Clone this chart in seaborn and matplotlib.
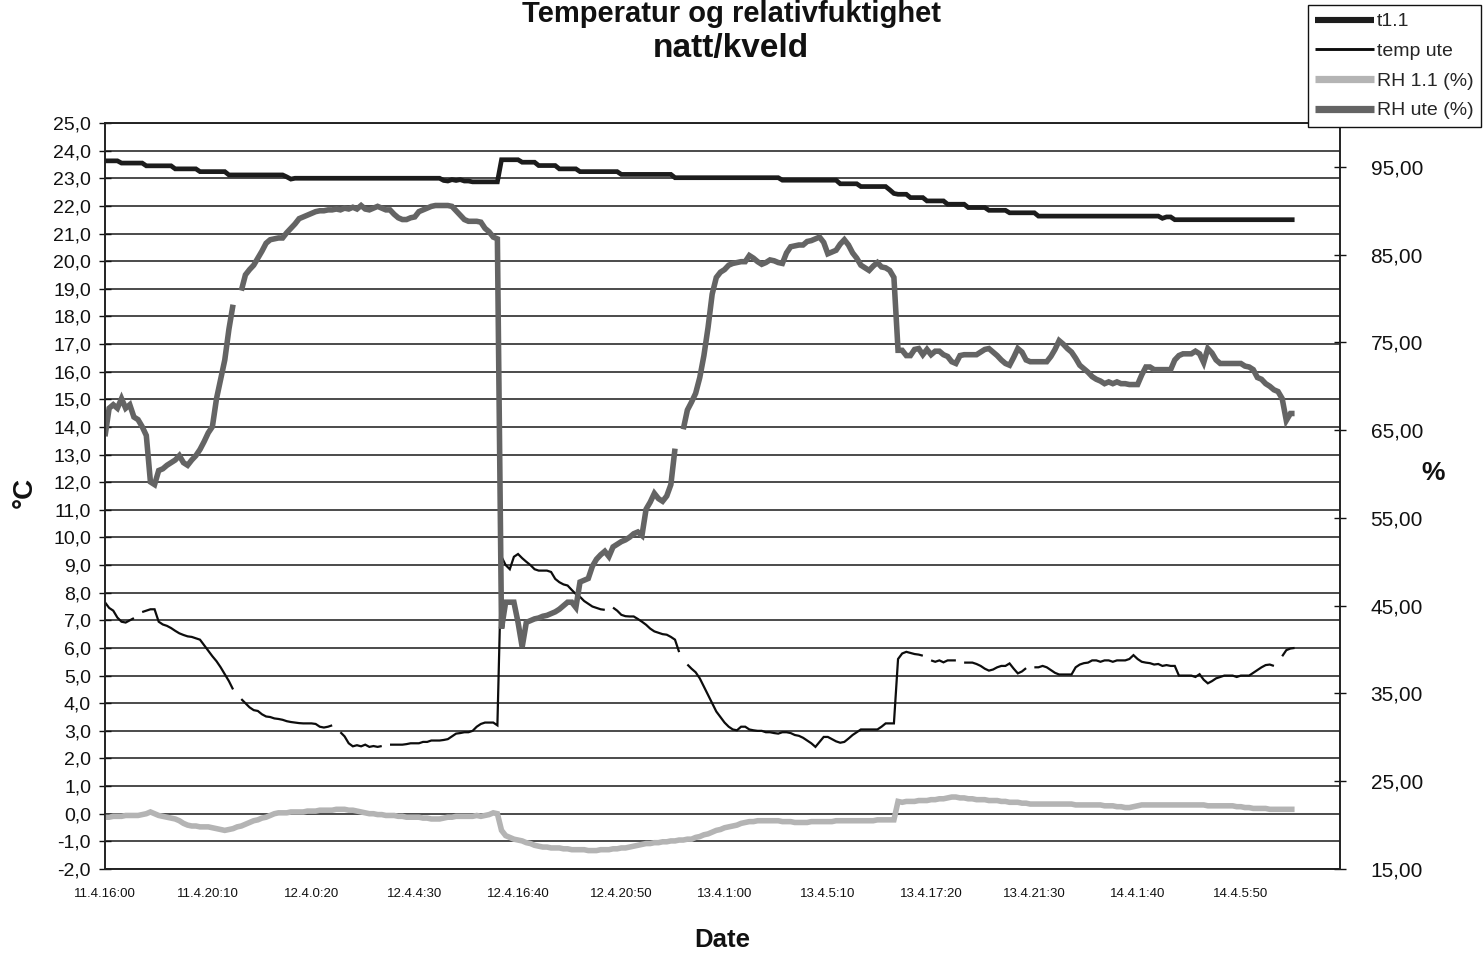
import datetime as dt
import numpy as np
import pandas as pd
import matplotlib
matplotlib.use("Agg")
import matplotlib.pyplot as plt
import seaborn as sns
from matplotlib.lines import Line2D

nan = float("nan")

TITLE = ["Temperatur og relativfuktighet", "natt/kveld"]
SERIES_NAMES = ["t1.1", "temp ute", "RH 1.1 (%)", "RH ute (%)"]
# logging sessions: (start, number of 10-minute samples on the category axis)
SESSIONS = [(dt.datetime(2000, 4, 11, 16, 0), 96),
            (dt.datetime(2000, 4, 12, 16, 0), 96),
            (dt.datetime(2000, 4, 13, 16, 0), 108)]
TICK_LABELS = ["11.4.16:00", "11.4.20:10", "12.4.0:20", "12.4.4:30", "12.4.16:40",
               "12.4.20:50", "13.4.1:00", "13.4.5:10", "13.4.17:20", "13.4.21:30",
               "14.4.1:40", "14.4.5:50"]

# t1.1 (deg C, left axis)
T11 = [
    23.63, 23.63, 23.63, 23.63, 23.55, 23.55, 23.55, 23.55, 23.55, 23.55,
    23.45, 23.45, 23.45, 23.45, 23.45, 23.45, 23.45, 23.34, 23.34, 23.34,
    23.34, 23.34, 23.34, 23.24, 23.24, 23.24, 23.24, 23.24, 23.24, 23.24,
    23.12, 23.12, 23.12, 23.12, 23.12, 23.12, 23.12, 23.12, 23.12, 23.12,
    23.12, 23.12, 23.12, 23.12, 23.05, 22.97, 23.0, 23.0, 23.0, 23.0,
    23.0, 23.0, 23.0, 23.0, 23.0, 23.0, 23.0, 23.0, 23.0, 23.0,
    23.0, 23.0, 23.0, 23.0, 23.0, 23.0, 23.0, 23.0, 23.0, 23.0,
    23.0, 23.0, 23.0, 23.0, 23.0, 23.0, 23.0, 23.0, 23.0, 23.0,
    23.0, 23.0, 22.92, 22.9, 22.95, 22.92, 22.95, 22.9, 22.9, 22.87,
    22.87, 22.87, 22.87, 22.87, 22.87, 22.87,
    23.67, 23.67, 23.67, 23.67,
    23.67, 23.58, 23.58, 23.58, 23.58, 23.46, 23.46, 23.46, 23.46, 23.46,
    23.34, 23.34, 23.34, 23.34, 23.34, 23.24, 23.24, 23.24, 23.24, 23.24,
    23.24, 23.24, 23.24, 23.24, 23.24, 23.14, 23.14, 23.14, 23.14, 23.14,
    23.14, 23.14, 23.14, 23.14, 23.14, 23.14, 23.14, 23.14, 23.02, 23.02,
    23.02, 23.02, 23.02, 23.02, 23.02, 23.02, 23.02, 23.02, 23.02, 23.02,
    23.02, 23.02, 23.02, 23.02, 23.02, 23.02, 23.02, 23.02, 23.02, 23.02,
    23.02, 23.02, 23.02, 23.02, 22.93, 22.93, 22.93, 22.93, 22.93, 22.93,
    22.93, 22.93, 22.93, 22.93, 22.93, 22.93, 22.93, 22.93, 22.8, 22.8,
    22.8, 22.8, 22.8, 22.7, 22.7, 22.7, 22.7, 22.7, 22.7, 22.7,
    22.58, 22.45,
    22.42, 22.42, 22.42, 22.3, 22.3, 22.3, 22.3, 22.18,
    22.18, 22.18, 22.18, 22.18, 22.06, 22.06, 22.06, 22.06, 22.06, 21.94,
    21.94, 21.94, 21.94, 21.94, 21.84, 21.84, 21.84, 21.84, 21.84, 21.75,
    21.75, 21.75, 21.75, 21.75, 21.75, 21.75, 21.63, 21.63, 21.63, 21.63,
    21.63, 21.63, 21.63, 21.63, 21.63, 21.63, 21.63, 21.63, 21.63, 21.63,
    21.63, 21.63, 21.63, 21.63, 21.63, 21.63, 21.63, 21.63, 21.63, 21.63,
    21.63, 21.63, 21.63, 21.63, 21.63, 21.63, 21.55, 21.6, 21.6, 21.5,
    21.5, 21.5, 21.5, 21.5, 21.5, 21.5, 21.5, 21.5, 21.5, 21.5,
    21.5, 21.5, 21.5, 21.5, 21.5, 21.5, 21.5, 21.5, 21.5, 21.5,
    21.5, 21.5, 21.5, 21.5, 21.5, 21.5, 21.5, 21.5, 21.5,
]

# temp ute (deg C, left axis); nan = missing sample
TEMP_UTE = [
    7.65, 7.45, 7.35, 7.1, 6.95, 6.92, 7.0, 7.08, nan, 7.3,
    7.35, 7.4, 7.4, 6.95, 6.85, 6.8, 6.72, 6.62, 6.53, 6.47,
    6.42, 6.4, 6.35, 6.3, 6.1, 5.9, 5.7, 5.52, 5.3, 5.05,
    4.8, 4.5, nan, 4.15, 4.0, 3.85, 3.75, 3.72, 3.6, 3.52,
    3.5, 3.45, 3.43, 3.4, 3.35, 3.32, 3.3, 3.28, 3.27, 3.27,
    3.27, 3.25, 3.15, 3.12, 3.15, 3.2, nan, 2.95, 2.8, 2.55,
    2.44, 2.48, 2.44, 2.5, 2.42, 2.45, 2.42, 2.45, nan, 2.5,
    2.5, 2.5, 2.5, 2.52, 2.55, 2.55, 2.55, 2.6, 2.6, 2.65,
    2.65, 2.65, 2.67, 2.7, 2.8, 2.9, 2.92, 2.95, 2.95, 3.0,
    3.15, 3.25, 3.3, 3.3, 3.3, 3.2,
    9.3, 9.0, 8.85, 9.3,
    9.4, 9.25, 9.12, 9.0, 8.85, 8.8, 8.8, 8.8, 8.75, 8.5,
    8.38, 8.3, 8.26, 8.1, 7.95, 7.85, 7.7, 7.6, 7.5, 7.45,
    7.4, 7.38, nan, 7.46, 7.35, 7.2, 7.15, 7.14, 7.14, 7.05,
    6.95, 6.84, 6.7, 6.6, 6.55, 6.5, 6.48, 6.4, 6.3, 5.85,
    nan, 5.4, 5.25, 5.12, 4.9, 4.6, 4.3, 4.0, 3.7, 3.5,
    3.3, 3.15, 3.05, 3.02, 3.15, 3.15, 3.05, 3.02, 3.0, 3.0,
    2.95, 2.95, 2.92, 2.9, 2.95, 2.95, 2.92, 2.85, 2.82, 2.75,
    2.65, 2.55, 2.42, 2.6, 2.78, 2.78, 2.7, 2.62, 2.57, 2.6,
    2.72, 2.85, 2.95, 3.05, 3.05, 3.05, 3.05, 3.05, 3.15, 3.27,
    3.27, 3.27,
    5.6, 5.8, 5.86, 5.82, 5.78, 5.76, 5.72, nan,
    5.55, 5.5, 5.55, 5.48, 5.55, 5.55, 5.55, nan, 5.47, 5.47,
    5.47, 5.42, 5.35, 5.25, 5.18, 5.22, 5.3, 5.35, 5.35, 5.44,
    5.25, 5.08, 5.15, 5.27, nan, 5.3, 5.3, 5.35, 5.3, 5.2,
    5.1, 5.04, 5.04, 5.04, 5.04, 5.3, 5.4, 5.45, 5.47, 5.55,
    5.55, 5.5, 5.55, 5.55, 5.5, 5.55, 5.55, 5.55, 5.6, 5.74,
    5.6, 5.5, 5.47, 5.45, 5.4, 5.42, 5.35, 5.38, 5.35, 5.35,
    5.0, 5.0, 5.0, 5.0, 4.95, 5.05, 4.85, 4.72, 4.8, 4.9,
    4.95, 5.0, 5.0, 5.0, 4.95, 5.0, 5.0, 5.0, 5.1, 5.2,
    5.3, 5.38, 5.4, 5.35, nan, 5.7, 5.92, 5.98, 6.0,
]

# RH 1.1 (%, right axis)
RH11 = [
    20.9, 20.9, 21.0, 21.0, 21.0, 21.1, 21.1, 21.1, 21.1, 21.2,
    21.3, 21.5, 21.3, 21.1, 21.0, 20.9, 20.8, 20.7, 20.5, 20.2,
    20.0, 19.9, 19.9, 19.8, 19.8, 19.8, 19.7, 19.6, 19.5, 19.4,
    19.5, 19.6, 19.8, 19.9, 20.1, 20.3, 20.5, 20.6, 20.8, 20.9,
    21.1, 21.3, 21.4, 21.4, 21.4, 21.5, 21.5, 21.5, 21.5, 21.6,
    21.6, 21.6, 21.7, 21.7, 21.7, 21.7, 21.8, 21.8, 21.8, 21.7,
    21.7, 21.6, 21.5, 21.4, 21.3, 21.3, 21.2, 21.2, 21.1, 21.1,
    21.1, 21.0, 21.0, 20.9, 20.9, 20.9, 20.9, 20.8, 20.8, 20.7,
    20.7, 20.7, 20.8, 20.9, 20.9, 21.0, 21.0, 21.0, 21.0, 21.0,
    21.1, 21.0, 21.1, 21.2, 21.4, 21.3,
    19.4, 18.8, 18.6, 18.4,
    18.3, 18.2, 18.0, 17.9, 17.7, 17.6, 17.5, 17.5, 17.4, 17.4,
    17.4, 17.3, 17.3, 17.2, 17.2, 17.2, 17.2, 17.1, 17.1, 17.1,
    17.2, 17.2, 17.2, 17.3, 17.3, 17.4, 17.4, 17.5, 17.6, 17.7,
    17.8, 17.9, 17.9, 18.0, 18.0, 18.1, 18.1, 18.2, 18.2, 18.3,
    18.3, 18.4, 18.4, 18.6, 18.7, 18.9, 19.0, 19.2, 19.4, 19.5,
    19.7, 19.8, 19.9, 20.0, 20.2, 20.3, 20.4, 20.4, 20.5, 20.5,
    20.5, 20.5, 20.5, 20.5, 20.4, 20.4, 20.4, 20.3, 20.3, 20.3,
    20.3, 20.4, 20.4, 20.4, 20.4, 20.4, 20.4, 20.5, 20.5, 20.5,
    20.5, 20.5, 20.5, 20.5, 20.5, 20.5, 20.5, 20.6, 20.6, 20.6,
    20.6, 20.6,
    22.7, 22.6, 22.7, 22.7, 22.7, 22.8, 22.8, 22.8,
    22.9, 22.9, 23.0, 23.0, 23.1, 23.2, 23.2, 23.1, 23.1, 23.0,
    23.0, 22.9, 22.9, 22.9, 22.8, 22.8, 22.8, 22.7, 22.7, 22.6,
    22.6, 22.6, 22.5, 22.5, 22.4, 22.4, 22.4, 22.4, 22.4, 22.4,
    22.4, 22.4, 22.4, 22.4, 22.4, 22.3, 22.3, 22.3, 22.3, 22.3,
    22.3, 22.3, 22.2, 22.2, 22.2, 22.1, 22.1, 22.0, 22.0, 22.1,
    22.2, 22.3, 22.3, 22.3, 22.3, 22.3, 22.3, 22.3, 22.3, 22.3,
    22.3, 22.3, 22.3, 22.3, 22.3, 22.3, 22.3, 22.2, 22.2, 22.2,
    22.2, 22.2, 22.2, 22.2, 22.1, 22.1, 22.0, 22.0, 21.9, 21.9,
    21.9, 21.9, 21.8, 21.8, 21.8, 21.8, 21.8, 21.8, 21.8,
]

# RH ute (%, right axis); nan = missing sample
RH_UTE = [
    64.3, 67.5, 67.9, 67.5, 68.6, 67.5, 67.9, 66.5, 66.2, 65.4,
    64.4, 59.1, 58.8, 60.4, 60.6, 61.0, 61.3, 61.6, 62.1, 61.3,
    61.0, 61.6, 62.1, 62.8, 63.7, 64.7, 65.4, 68.6, 70.8, 73.0,
    76.5, 79.3, nan, 80.9, 82.7, 83.3, 83.8, 84.6, 85.4, 86.3,
    86.7, 86.8, 86.9, 86.9, 87.5, 88.0, 88.5, 89.1, 89.3, 89.5,
    89.7, 89.9, 90.0, 90.0, 90.1, 90.1, 90.2, 90.1, 90.3, 90.2,
    90.4, 90.2, 90.6, 90.2, 90.1, 90.3, 90.5, 90.3, 90.1, 90.1,
    89.6, 89.2, 89.0, 89.0, 89.2, 89.3, 89.9, 90.1, 90.3, 90.5,
    90.6, 90.6, 90.6, 90.6, 90.5, 90.0, 89.5, 89.0, 88.8, 88.8,
    88.8, 88.7, 88.0, 87.6, 87.0, 86.8,
    42.4, 45.4, 45.4, 45.4,
    43.1, 40.3, 43.1, 43.3, 43.5, 43.6, 43.8, 43.9, 44.1, 44.3,
    44.6, 45.0, 45.4, 45.4, 44.8, 47.7, 47.9, 48.1, 49.5, 50.3,
    50.8, 51.2, 50.6, 51.7, 52.0, 52.3, 52.5, 52.8, 53.2, 53.4,
    53.0, 56.0, 56.8, 57.8, 57.2, 56.9, 57.5, 58.8, 62.9, nan,
    65.1, 67.3, 68.2, 69.2, 71.0, 73.5, 76.7, 80.5, 82.4, 83.0,
    83.3, 83.8, 84.0, 84.1, 84.2, 84.2, 84.9, 84.6, 84.2, 83.9,
    84.1, 84.4, 84.3, 84.1, 84.0, 85.2, 85.9, 86.0, 86.1, 86.1,
    86.5, 86.6, 86.8, 87.0, 86.4, 85.1, 85.3, 85.5, 86.2, 86.7,
    86.1, 85.2, 84.6, 83.8, 83.5, 83.2, 83.7, 84.1, 83.6, 83.5,
    83.2, 82.4,
    74.1, 74.1, 73.5, 73.5, 74.2, 74.3, 73.6, 74.2,
    73.6, 74.0, 74.0, 73.6, 73.4, 72.8, 72.6, 73.5, 73.6, 73.6,
    73.6, 73.6, 73.9, 74.2, 74.3, 73.9, 73.5, 73.0, 72.6, 72.4,
    73.3, 74.3, 73.9, 73.0, 72.8, 72.8, 72.8, 72.8, 72.8, 73.4,
    74.2, 75.2, 74.8, 74.3, 73.9, 73.2, 72.4, 72.0, 71.6, 71.1,
    70.8, 70.6, 70.3, 70.5, 70.3, 70.5, 70.3, 70.3, 70.2, 70.2,
    70.2, 71.3, 72.2, 72.2, 71.9, 71.9, 71.9, 71.9, 71.9, 73.0,
    73.5, 73.7, 73.7, 73.7, 74.0, 73.7, 72.7, 74.3, 73.8, 73.0,
    72.6, 72.6, 72.6, 72.6, 72.6, 72.6, 72.3, 72.2, 71.9, 71.0,
    70.8, 70.3, 70.0, 69.6, 69.4, 68.6, 66.1, 66.9, 66.9,
]

for s in (T11, TEMP_UTE, RH11, RH_UTE):
    assert len(s) == 289, len(s)

# category labels (10-minute samples per session)
CATEGORIES = []
for start, n in SESSIONS:
    for k in range(n):
        t = start + dt.timedelta(minutes=10 * k)
        CATEGORIES.append(f"{t.day}.{t.month}.{t.hour}:{t.minute:02d}")
TICK_EVERY = 25
assert [CATEGORIES[i] for i in range(0, len(CATEGORIES), TICK_EVERY)] == TICK_LABELS

sns.set_theme(style="white")
plt.rcParams["font.family"] = ["Liberation Sans", "DejaVu Sans"]

W, H = 1483, 955
fig = plt.figure(figsize=(W / 100, H / 100), dpi=100)
ax = fig.add_axes([105 / W, 1 - 869 / H, (1340 - 105) / W, (869 - 123) / H])
ax2 = ax.twinx()

STYLE = {
    "t1.1": dict(color="#1c1c1c", lw=3.4),
    "temp ute": dict(color="#0d0d0d", lw=1.6),
    "RH 1.1 (%)": dict(color="#b4b4b4", lw=4.0),
    "RH ute (%)": dict(color="#646464", lw=4.0),
}


def draw(axis, values, name):
    df = pd.DataFrame({"sample": np.arange(len(values)), "value": values})
    df["segment"] = df["value"].isna().cumsum()
    df = df.dropna()
    st = STYLE[name]
    sns.lineplot(data=df, x="sample", y="value", units="segment", estimator=None,
                 color=st["color"], linewidth=st["lw"], ax=axis, legend=False,
                 solid_joinstyle="miter", solid_capstyle="butt")


draw(ax, T11, "t1.1")
draw(ax, TEMP_UTE, "temp ute")
draw(ax2, RH11, "RH 1.1 (%)")
draw(ax2, RH_UTE, "RH ute (%)")

ax.set_xlim(0, len(CATEGORIES) - 1)
ax.set_ylim(-2, 25)
ax2.set_ylim(15, 100)
for a in (ax, ax2):
    a.set_xlabel("")
    a.set_ylabel("")

ax.set_yticks(np.arange(-2, 26, 1))
ax.set_yticklabels([f"{v:.1f}".replace(".", ",") for v in np.arange(-2, 26, 1)])
ax2.set_yticks(np.arange(15, 100, 10))
ax2.set_yticklabels([f"{v:.2f}".replace(".", ",") for v in np.arange(15, 100, 10)])
ax.set_xticks(np.arange(0, len(CATEGORIES), TICK_EVERY))
ax.set_xticklabels(TICK_LABELS)

ax.set_axisbelow(True)
ax.yaxis.grid(True, color="#1a1a1a", linewidth=1.1)
ax.xaxis.grid(False)
ax2.grid(False)

for a in (ax, ax2):
    for sp in a.spines.values():
        sp.set_visible(True)
        sp.set_color("#222222")
        sp.set_linewidth(1.2)

ax.tick_params(axis="y", left=True, right=False, direction="inout", length=8, width=1,
               labelsize=14, pad=6, colors="#111111")
ax.tick_params(axis="x", bottom=False, length=0, labelsize=9.5, pad=14, colors="#111111")
ax2.tick_params(axis="y", right=True, left=False, direction="inout", length=8, width=1,
                labelsize=15, pad=18, colors="#111111")

# titles and axis labels
fig.text(731 / W, 1 - 22 / H, TITLE[0], ha="center", va="baseline", fontsize=21,
         fontweight="bold", color="#111111")
fig.text(731 / W, 1 - 57 / H, TITLE[1], ha="center", va="baseline", fontsize=24,
         fontweight="bold", color="#111111")
fig.text(25 / W, 1 - 492 / H, "°C", ha="center", va="center", rotation=90,
         fontsize=20, fontweight="bold", color="#111111")
fig.text(1433 / W, 1 - 473 / H, "%", ha="center", va="center",
         fontsize=19, fontweight="bold", color="#111111")
fig.text(722 / W, 1 - 940 / H, "Date", ha="center", va="center",
         fontsize=18.5, fontweight="bold", color="#111111")

handles = [Line2D([0], [0], color=STYLE[n]["color"], lw=STYLE[n]["lw"] * 1.3,
                  solid_capstyle="butt") for n in SERIES_NAMES]
leg = fig.legend(handles, SERIES_NAMES, loc="upper right",
                 bbox_to_anchor=(1481 / W, 1 - 5 / H), frameon=True, fancybox=False,
                 edgecolor="#111111", framealpha=1, fontsize=14, handlelength=3.0,
                 handletextpad=0.15, borderpad=0.4, labelspacing=0.62, borderaxespad=0)
leg.get_frame().set_linewidth(1.0)

fig.savefig("out.png", dpi=100)
